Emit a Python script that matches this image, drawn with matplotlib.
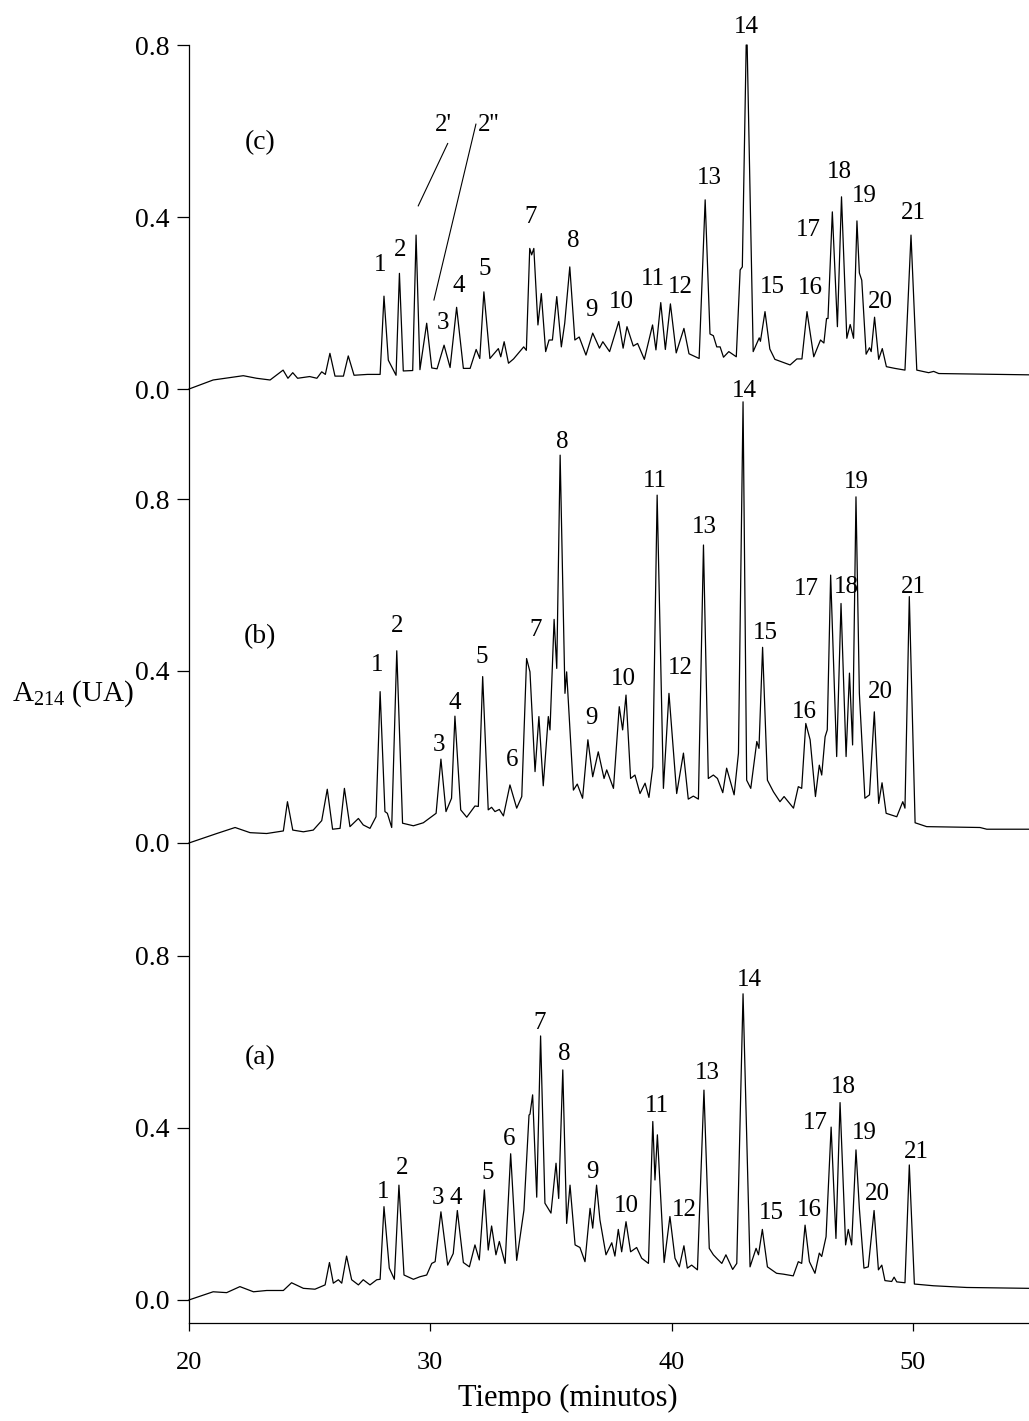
import numpy as np
import matplotlib
matplotlib.use('Agg')
import matplotlib.pyplot as plt

plt.rcParams['font.family'] = ['Liberation Serif', 'DejaVu Serif']
plt.rcParams['mathtext.fontset'] = 'custom'
plt.rcParams['mathtext.rm'] = 'Liberation Serif'

# chromatogram traces: (time [min], absorbance [UA])
trace_a = [
    (20.0, 0.0), (21.0, 0.019), (21.56, 0.017), (22.11, 0.031), (22.67, 0.019), (23.22, 0.022),
    (23.91, 0.022), (24.25, 0.04), (24.74, 0.027), (25.22, 0.025), (25.64, 0.035), (25.82, 0.087),
    (25.98, 0.039), (26.19, 0.047), (26.33, 0.039), (26.53, 0.102), (26.74, 0.047), (27.02, 0.035),
    (27.22, 0.047), (27.5, 0.035), (27.78, 0.047), (27.92, 0.048), (28.08, 0.217), (28.3, 0.074),
    (28.51, 0.048), (28.7, 0.267), (28.91, 0.058), (29.3, 0.048), (29.57, 0.054), (29.85, 0.058),
    (30.06, 0.085), (30.2, 0.089), (30.44, 0.205), (30.72, 0.081), (30.95, 0.108), (31.12, 0.208),
    (31.37, 0.087), (31.62, 0.077), (31.85, 0.128), (32.03, 0.093), (32.24, 0.256), (32.4, 0.116),
    (32.54, 0.172), (32.72, 0.105), (32.86, 0.136), (33.1, 0.085), (33.33, 0.34), (33.58, 0.092),
    (33.88, 0.209), (34.09, 0.43), (34.13, 0.432), (34.24, 0.477), (34.41, 0.239), (34.57, 0.614),
    (34.75, 0.225), (35.0, 0.202), (35.21, 0.318), (35.32, 0.236), (35.49, 0.535), (35.65, 0.178),
    (35.79, 0.267), (36.0, 0.128), (36.2, 0.122), (36.41, 0.089), (36.62, 0.213), (36.73, 0.167),
    (36.89, 0.267), (37.03, 0.186), (37.28, 0.105), (37.52, 0.133), (37.65, 0.102), (37.79, 0.164),
    (37.93, 0.112), (38.11, 0.182), (38.3, 0.112), (38.55, 0.122), (38.76, 0.097), (39.04, 0.085),
    (39.22, 0.415), (39.31, 0.279), (39.41, 0.384), (39.69, 0.087), (39.93, 0.194), (40.14, 0.097),
    (40.32, 0.077), (40.51, 0.126), (40.65, 0.074), (40.83, 0.081), (41.07, 0.07), (41.34, 0.488),
    (41.56, 0.12), (41.73, 0.105), (41.9, 0.095), (42.08, 0.085), (42.25, 0.105), (42.53, 0.071),
    (42.7, 0.085), (42.96, 0.712), (43.25, 0.077), (43.5, 0.12), (43.6, 0.105), (43.76, 0.164),
    (43.97, 0.077), (44.35, 0.062), (44.63, 0.06), (45.04, 0.056), (45.25, 0.089), (45.39, 0.085),
    (45.53, 0.174), (45.71, 0.089), (45.94, 0.062), (46.12, 0.109), (46.22, 0.101), (46.4, 0.147),
    (46.61, 0.402), (46.81, 0.143), (46.98, 0.459), (47.21, 0.128), (47.32, 0.164), (47.46, 0.128),
    (47.64, 0.349), (47.78, 0.213), (47.97, 0.074), (48.15, 0.077), (48.39, 0.208), (48.57, 0.07),
    (48.71, 0.081), (48.84, 0.045), (49.12, 0.043), (49.22, 0.053), (49.33, 0.042), (49.67, 0.04),
    (49.85, 0.314), (50.06, 0.037), (50.85, 0.033), (52.23, 0.029), (54.81, 0.027),
]

trace_b = [
    (20.0, 0.0), (21.15, 0.022), (21.91, 0.036), (22.53, 0.024), (23.22, 0.022), (23.91, 0.028),
    (24.08, 0.096), (24.3, 0.03), (24.74, 0.026), (25.15, 0.03), (25.5, 0.052), (25.73, 0.125),
    (25.95, 0.032), (26.26, 0.034), (26.44, 0.127), (26.67, 0.038), (27.02, 0.057), (27.22, 0.042),
    (27.5, 0.034), (27.75, 0.061), (27.92, 0.352), (28.12, 0.073), (28.22, 0.069), (28.4, 0.036),
    (28.61, 0.447), (28.85, 0.046), (29.3, 0.04), (29.71, 0.047), (30.1, 0.063), (30.24, 0.069),
    (30.44, 0.195), (30.65, 0.073), (30.88, 0.104), (31.02, 0.295), (31.26, 0.077), (31.51, 0.06),
    (31.85, 0.086), (31.99, 0.085), (32.17, 0.387), (32.4, 0.077), (32.54, 0.083), (32.68, 0.073),
    (32.86, 0.078), (33.03, 0.063), (33.3, 0.135), (33.58, 0.081), (33.79, 0.108), (33.99, 0.429),
    (34.13, 0.398), (34.34, 0.166), (34.5, 0.294), (34.68, 0.133), (34.89, 0.294), (34.96, 0.263),
    (35.13, 0.52), (35.24, 0.406), (35.38, 0.902), (35.58, 0.348), (35.65, 0.398), (35.93, 0.123),
    (36.09, 0.137), (36.31, 0.104), (36.53, 0.24), (36.73, 0.154), (36.96, 0.212), (37.2, 0.15),
    (37.31, 0.17), (37.59, 0.127), (37.83, 0.317), (37.97, 0.263), (38.11, 0.344), (38.3, 0.15),
    (38.48, 0.158), (38.69, 0.115), (38.9, 0.139), (39.06, 0.106), (39.22, 0.177), (39.4, 0.809),
    (39.66, 0.127), (39.89, 0.348), (40.21, 0.115), (40.49, 0.209), (40.69, 0.102), (40.9, 0.109),
    (41.11, 0.102), (41.32, 0.693), (41.52, 0.15), (41.73, 0.158), (41.9, 0.15), (42.12, 0.117),
    (42.28, 0.174), (42.59, 0.112), (42.77, 0.209), (42.96, 1.026), (43.11, 0.146), (43.28, 0.127),
    (43.53, 0.236), (43.62, 0.22), (43.77, 0.455), (43.97, 0.146), (44.22, 0.119), (44.49, 0.096),
    (44.66, 0.108), (45.05, 0.081), (45.25, 0.131), (45.39, 0.127), (45.56, 0.278), (45.74, 0.24),
    (45.96, 0.108), (46.12, 0.181), (46.22, 0.158), (46.36, 0.247), (46.45, 0.263), (46.59, 0.623),
    (46.84, 0.201), (47.02, 0.557), (47.23, 0.201), (47.37, 0.395), (47.5, 0.228), (47.64, 0.805),
    (47.78, 0.348), (48.01, 0.104), (48.2, 0.112), (48.4, 0.305), (48.58, 0.092), (48.72, 0.14),
    (48.89, 0.069), (49.33, 0.061), (49.58, 0.096), (49.67, 0.081), (49.85, 0.573), (50.09, 0.047),
    (50.57, 0.038), (52.78, 0.036), (53.06, 0.032), (54.81, 0.032),
]

trace_c = [
    (20.0, 0.0), (21.0, 0.021), (22.25, 0.031), (22.8, 0.025), (23.36, 0.021), (23.9, 0.044),
    (24.1, 0.025), (24.3, 0.038), (24.5, 0.025), (25.0, 0.029), (25.3, 0.025), (25.5, 0.04),
    (25.65, 0.034), (25.84, 0.083), (26.05, 0.03), (26.4, 0.03), (26.6, 0.077), (26.84, 0.032),
    (27.4, 0.034), (27.92, 0.034), (28.08, 0.216), (28.26, 0.067), (28.58, 0.032), (28.72, 0.269),
    (28.88, 0.042), (29.27, 0.043), (29.41, 0.358), (29.57, 0.045), (29.85, 0.153), (30.06, 0.049),
    (30.28, 0.047), (30.57, 0.102), (30.82, 0.05), (31.09, 0.19), (31.37, 0.048), (31.65, 0.048),
    (31.9, 0.092), (32.05, 0.071), (32.22, 0.226), (32.47, 0.071), (32.82, 0.094), (32.92, 0.075),
    (33.06, 0.11), (33.24, 0.06), (33.45, 0.07), (33.87, 0.098), (33.98, 0.09), (34.12, 0.327),
    (34.2, 0.312), (34.29, 0.327), (34.46, 0.149), (34.6, 0.222), (34.78, 0.087), (34.92, 0.114),
    (35.06, 0.114), (35.24, 0.215), (35.43, 0.098), (35.57, 0.153), (35.78, 0.284), (35.99, 0.114),
    (36.17, 0.121), (36.45, 0.079), (36.73, 0.13), (37.01, 0.095), (37.15, 0.11), (37.43, 0.087),
    (37.81, 0.157), (37.99, 0.095), (38.15, 0.145), (38.41, 0.1), (38.59, 0.106), (38.87, 0.069),
    (39.21, 0.149), (39.35, 0.091), (39.55, 0.201), (39.74, 0.092), (39.95, 0.198), (40.19, 0.084),
    (40.51, 0.141), (40.72, 0.082), (41.14, 0.071), (41.39, 0.44), (41.59, 0.128), (41.73, 0.124),
    (41.87, 0.098), (42.01, 0.098), (42.15, 0.074), (42.37, 0.087), (42.68, 0.075), (42.84, 0.277),
    (42.93, 0.284), (43.09, 0.8), (43.13, 0.8), (43.38, 0.087), (43.63, 0.119), (43.68, 0.111),
    (43.87, 0.18), (44.07, 0.093), (44.28, 0.069), (44.91, 0.056), (45.19, 0.07), (45.4, 0.07),
    (45.61, 0.18), (45.89, 0.075), (46.17, 0.114), (46.31, 0.107), (46.42, 0.164), (46.48, 0.164),
    (46.66, 0.412), (46.87, 0.145), (47.04, 0.447), (47.26, 0.118), (47.4, 0.15), (47.54, 0.118),
    (47.68, 0.391), (47.78, 0.27), (47.88, 0.253), (48.06, 0.081), (48.2, 0.096), (48.27, 0.087),
    (48.41, 0.167), (48.58, 0.069), (48.73, 0.094), (48.9, 0.052), (49.25, 0.048), (49.67, 0.044),
    (49.92, 0.358), (50.16, 0.044), (50.65, 0.038), (50.86, 0.041), (51.07, 0.036), (54.81, 0.033),
]

# peak numbers and where they are written (time, absorbance)
peak_names = ['1', '2', '3', '4', '5', '6', '7', '8', '9', '10', '11',
              '12', '13', '14', '15', '16', '17', '18', '19', '20', '21']
label_pos_a = [(28.05, 0.252), (28.84, 0.306), (30.33, 0.237), (31.05, 0.237), (32.4, 0.295),
               (33.26, 0.374), (34.52, 0.645), (35.55, 0.572), (36.71, 0.298), (38.14, 0.219),
               (39.41, 0.451), (40.51, 0.209), (41.5, 0.527), (43.21, 0.744), (44.15, 0.202),
               (45.71, 0.209), (45.94, 0.411), (47.12, 0.496), (47.97, 0.388), (48.54, 0.247),
               (50.13, 0.343)]
label_pos_b = [(27.78, 0.414), (28.63, 0.505), (30.37, 0.228), (31.02, 0.325), (32.13, 0.432),
               (33.37, 0.193), (34.38, 0.495), (35.47, 0.933), (36.69, 0.29), (38.0, 0.381),
               (39.31, 0.843), (40.35, 0.406), (41.34, 0.734), (43.01, 1.052), (43.9, 0.488),
               (45.49, 0.305), (45.6, 0.59), (47.26, 0.596), (47.67, 0.84), (48.64, 0.352),
               (50.02, 0.595)]
# panel (c) has no peak 6
label_pos_c = [(27.92, 0.288), (28.74, 0.323), (30.51, 0.154), (31.16, 0.24), (32.24, 0.278),
               None, (34.15, 0.401), (35.93, 0.345), (36.69, 0.184), (37.92, 0.203),
               (39.22, 0.255), (40.38, 0.237), (41.55, 0.49), (43.11, 0.841), (44.19, 0.238),
               (45.74, 0.234), (45.67, 0.37), (46.94, 0.505), (47.97, 0.449), (48.67, 0.203),
               (50.02, 0.409)]

panel_names = ['(a)', '(b)', '(c)']
panel_name_y = [0.563, 0.479, 0.572]
y_ticks = [0.0, 0.4, 0.8]
x_ticks = [20, 30, 40, 50]

# vertical offset of each chromatogram in the stack
offsets = [0.0, 1.0628, 2.1186]

fig = plt.figure(figsize=(10.29, 14.21), dpi=100)
ax = fig.add_axes([189 / 1029, 0.069, 840 / 1029, 0.8993])

traces = [trace_a, trace_b, trace_c]
label_sets = [label_pos_a, label_pos_b, label_pos_c]
for trace, labels, off, pname, py in zip(traces, label_sets, offsets, panel_names, panel_name_y):
    t, y = np.array(trace).T
    ax.plot(t, y + off, color='black', lw=0.9, clip_on=False)
    for name, pos in zip(peak_names, labels):
        if pos is None:
            continue
        ax.text(pos[0], pos[1] + off, name, ha='center', va='center',
                fontsize=18, clip_on=False)
    ax.text(22.94, py + off, pname, ha='center', va='center', fontsize=20)

# extra peaks 2' and 2'' of panel (c)
off = offsets[2]
ax.text(30.53, 0.614 + off, "2'", ha='center', va='center', fontsize=18)
ax.text(32.43, 0.614 + off, "2''", ha='center', va='center', fontsize=18)
ax.plot([30.72, 29.50], [0.571 + off, 0.426 + off], color='black', lw=0.8)
ax.plot([31.89, 30.15], [0.616 + off, 0.207 + off], color='black', lw=0.8)

ax.set_xlim(20, 54.81)
ax.set_ylim(-0.0535, 2.9186)

ax.spines['top'].set_visible(False)
ax.spines['right'].set_visible(False)
ax.spines['left'].set_linewidth(0.9)
ax.spines['bottom'].set_linewidth(0.9)

ax.set_yticks([o + v for o in offsets for v in y_ticks])
ax.set_yticklabels(['%.1f' % v for o in offsets for v in y_ticks])
ax.set_xticks(x_ticks)
ax.tick_params(axis='y', direction='out', length=9, width=0.9, labelsize=20, pad=5)
ax.tick_params(axis='x', direction='out', length=6, width=0.9, labelsize=19, pad=15)

ax.set_xlabel('Tiempo (minutos)', fontsize=22)
ax.xaxis.set_label_coords(0.451, -0.048)
fig.text(12 / 1029, 1 - 694 / 1421, r'A$_{214}$ (UA)', fontsize=21, ha='left', va='center')

fig.savefig('out.png', dpi=100)
